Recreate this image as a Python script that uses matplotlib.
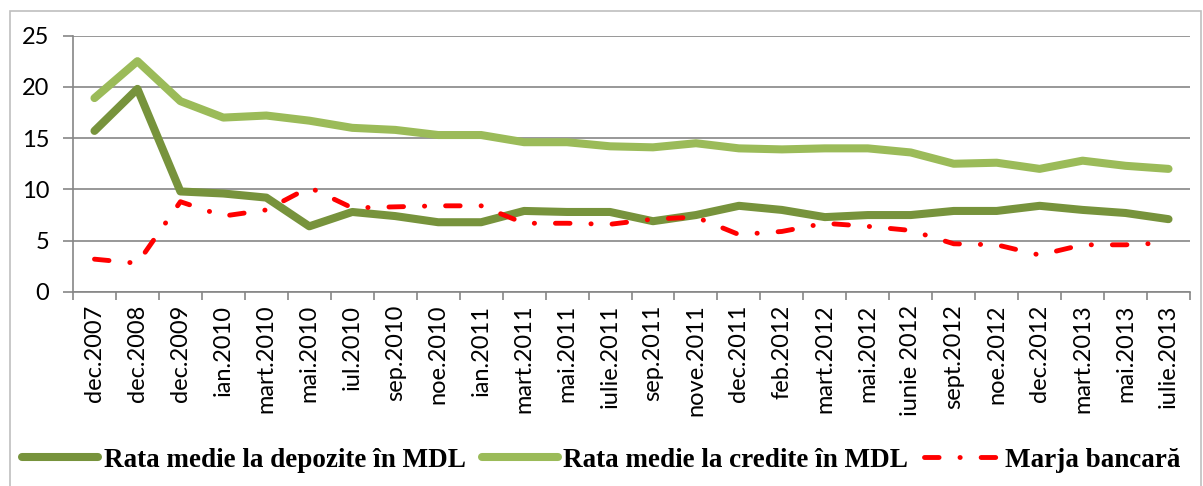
import matplotlib
matplotlib.use("Agg")
import matplotlib.pyplot as plt
from matplotlib.patches import Rectangle
import numpy as np

categories = ["dec.2007", "dec.2008", "dec.2009", "ian.2010", "mart.2010", "mai.2010",
              "iul.2010", "sep.2010", "noe.2010", "ian.2011", "mart.2011", "mai.2011",
              "iulie.2011", "sep.2011", "nove.2011", "dec.2011", "feb.2012", "mart.2012",
              "mai.2012", "iunie 2012", "sept.2012", "noe.2012", "dec.2012", "mart.2013",
              "mai.2013", "iulie.2013"]
depozite = [15.7, 19.8, 9.8, 9.6, 9.2, 6.4, 7.8, 7.4, 6.8, 6.8, 7.9, 7.8, 7.8, 6.9,
            7.5, 8.4, 8.0, 7.3, 7.5, 7.5, 7.9, 7.9, 8.4, 8.0, 7.7, 7.1]
credite = [18.9, 22.5, 18.6, 17.0, 17.2, 16.7, 16.0, 15.8, 15.3, 15.3, 14.6, 14.6, 14.2, 14.1,
           14.5, 14.0, 13.9, 14.0, 14.0, 13.6, 12.5, 12.6, 12.0, 12.8, 12.3, 12.0]
marja = [3.2, 2.8, 8.8, 7.4, 8.0, 10.2, 8.2, 8.3, 8.4, 8.4, 6.7, 6.7, 6.6, 7.1,
         7.3, 5.6, 5.9, 6.7, 6.4, 6.0, 4.7, 4.6, 3.6, 4.6, 4.6, 4.8]
yticks = [0, 5, 10, 15, 20, 25]
legend_labels = ["Rata medie la depozite în MDL", "Rata medie la credite în MDL", "Marja bancară"]

W, H = 1203, 486
fig = plt.figure(figsize=(W / 100, H / 100), dpi=100)
fig.patches.append(Rectangle((10 / W, -0.01), (W - 12) / W, (H - 11) / H + 0.01,
                             transform=fig.transFigure, fill=False,
                             edgecolor="#BFBFBF", linewidth=1.2))

ax = fig.add_axes([73 / W, (H - 292) / H, (1190 - 73) / W, (292 - 35.5) / H])
x = np.arange(len(categories))

ax.plot(x, depozite, color="#77933C", lw=5.8, solid_capstyle="round",
        solid_joinstyle="round", label=legend_labels[0], zorder=3)
ax.plot(x, credite, color="#9BBB59", lw=5.8, solid_capstyle="round",
        solid_joinstyle="round", label=legend_labels[1], zorder=3)
ax.plot(x, marja, color="#FF0000", lw=3.5, dashes=(3.0, 4.3, 0.05, 4.3),
        dash_capstyle="round", label=legend_labels[2], zorder=4)

ax.set_xlim(-0.5, len(categories) - 0.5)
ax.set_ylim(0, 25)
ax.set_yticks(yticks)
ax.set_yticklabels([str(v) for v in yticks], fontsize=17, family="Lato")
ax.yaxis.grid(True, color="#868686", lw=1.2)
ax.set_axisbelow(True)

ax.set_xticks(x)
ax.set_xticklabels(categories, rotation=90, fontsize=17, family="Lato")
ax.set_xticks(np.arange(-0.5, len(categories), 1.0), minor=True)
ax.tick_params(axis="x", which="major", length=0, pad=9)
ax.tick_params(axis="x", which="minor", length=6, color="#868686", width=1.2)
ax.tick_params(axis="y", length=7, color="#868686", width=1.2, pad=10)

for s in ["top", "right"]:
    ax.spines[s].set_visible(False)
for s in ["left", "bottom"]:
    ax.spines[s].set_color("#868686")
    ax.spines[s].set_linewidth(1.2)

leg = fig.legend(loc="center", bbox_to_anchor=(0.5, (H - 460) / H), ncol=3, frameon=False,
                 prop={"family": "Liberation Serif", "weight": "bold", "size": 19.5},
                 handlelength=2.8, handletextpad=0.2, columnspacing=0.6)

fig.savefig("out.png", dpi=100)
